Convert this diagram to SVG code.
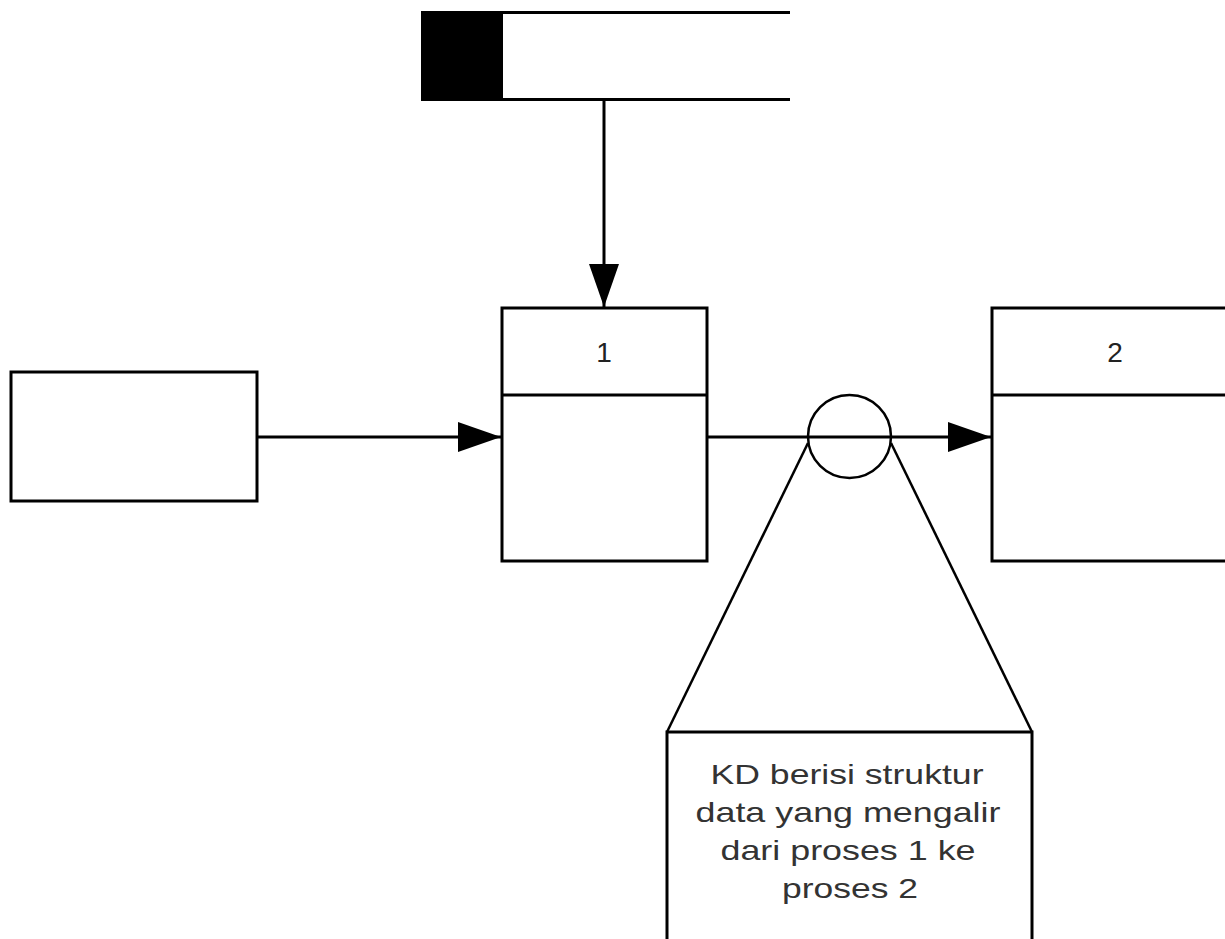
<svg xmlns="http://www.w3.org/2000/svg" width="1225" height="939" viewBox="0 0 1225 939">
<style>
.box{fill:#fff;stroke:#000;stroke-width:3}
.ln{fill:none;stroke:#000;stroke-width:3}
.thin{fill:none;stroke:#000;stroke-width:2.5}
.lbl{font-family:"Liberation Sans",Arial,sans-serif;font-size:28px;fill:#222;text-anchor:middle}
.note{font-family:"Liberation Sans",Arial,sans-serif;font-size:28px;fill:#333;text-anchor:middle}
</style>
<defs>
<marker id="ah" markerUnits="userSpaceOnUse" markerWidth="44" markerHeight="30" refX="43" refY="15" orient="auto">
<path d="M0,0 L43,15 L0,30 Z" fill="#000"/>
</marker>
</defs>
<rect width="1225" height="939" fill="#fff"/>
<g id="connectors">
<line class="ln" x1="604" y1="100" x2="604" y2="307" marker-end="url(#ah)"/>
<line class="ln" x1="257" y1="437" x2="501" y2="437" marker-end="url(#ah)"/>
<line class="ln" x1="707" y1="437" x2="991" y2="437" marker-end="url(#ah)"/>
</g>
<g id="datastore">
<rect x="421" y="12" width="82" height="88" fill="#000"/>
<line class="ln" x1="421" y1="12.5" x2="790" y2="12.5"/>
<line class="ln" x1="421" y1="99.5" x2="790" y2="99.5"/>
</g>
<g id="entity">
<rect class="box" x="11" y="372" width="246" height="129"/>
</g>
<g id="process1">
<rect class="box" x="502" y="308" width="205" height="253"/>
<line class="ln" x1="502" y1="395" x2="707" y2="395"/>
<text class="lbl" x="604" y="362">1</text>
</g>
<g id="process2">
<rect class="box" x="992" y="308" width="260" height="253"/>
<line class="ln" x1="992" y1="395" x2="1225" y2="395"/>
<text class="lbl" x="1115" y="362">2</text>
</g>
<g id="callout">
<circle class="thin" cx="849.5" cy="436.5" r="41.5" fill="none"/>
<line class="thin" x1="808" y1="443" x2="667" y2="732"/>
<line class="thin" x1="891" y1="443" x2="1032" y2="732"/>
<rect class="box" x="667" y="732" width="365" height="240"/>
<text class="note" x="847" y="784" textLength="273" lengthAdjust="spacingAndGlyphs">KD berisi struktur</text>
<text class="note" x="848" y="822" textLength="305" lengthAdjust="spacingAndGlyphs">data yang mengalir</text>
<text class="note" x="848" y="860" textLength="255" lengthAdjust="spacingAndGlyphs">dari proses 1 ke</text>
<text class="note" x="850" y="898" textLength="136" lengthAdjust="spacingAndGlyphs">proses 2</text>
</g>
</svg>
